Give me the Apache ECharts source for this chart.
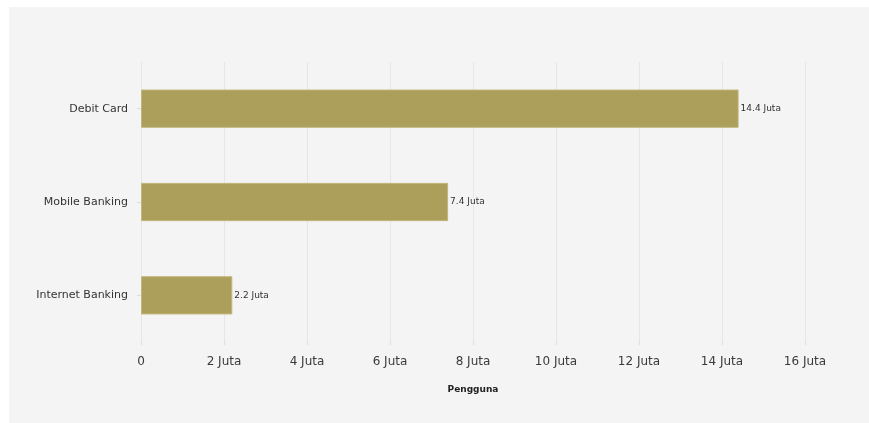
<!DOCTYPE html>
<html>
<head>
<meta charset="utf-8">
<script src="https://cdn.jsdelivr.net/npm/echarts@6/dist/echarts.min.js"></script>
<style>
  html, body { margin: 0; padding: 0; background: #ffffff; }
  #main { position: absolute; left: 9px; top: 7px; width: 860px; height: 416px; background: #f4f4f4; }
</style>
</head>
<body>
<div id="main"></div>
<script>
// data kanal pembayaran (juta pengguna)
var categories = ['Internet Banking', 'Mobile Banking', 'Debit Card'];
var values = [2.2, 7.4, 14.4];
var xTicks = [0, 2, 4, 6, 8, 10, 12, 14, 16];
var font = 'DejaVu Sans';

var myChart = echarts.init(document.getElementById('main'));
var opt = {
    backgroundColor: '#f4f4f4',
    textStyle: { fontFamily: font },
    grid: { left: 132, right: 64, top: 55, bottom: 81 },
    xAxis: {
        type: 'value',
        min: xTicks[0],
        max: xTicks[xTicks.length - 1],
        interval: 2,
        name: 'Pengguna',
        nameLocation: 'middle',
        nameGap: 43,
        nameTextStyle: { fontFamily: font, fontSize: 9, fontWeight: 'bold', color: '#222' },
        axisLine: { show: false },
        axisTick: { show: true, length: 3, lineStyle: { color: '#dddddd' } },
        axisLabel: {
            fontFamily: font, fontSize: 12, color: '#3a3a3a', margin: 14,
            formatter: function (v) { return v === 0 ? '0' : v + ' Juta'; }
        },
        splitLine: { show: true, lineStyle: { color: '#e6e6e6', width: 1 } }
    },
    yAxis: {
        type: 'category',
        data: categories,
        axisLine: { show: false },
        axisTick: { show: true, alignWithLabel: true, length: 4, lineStyle: { color: '#dddddd' } },
        axisLabel: { fontFamily: font, fontSize: 11, color: '#333', margin: 13 }
    },
    series: [{
        type: 'bar',
        data: values,
        barWidth: '41%',
        itemStyle: { color: '#ab9f5b', borderColor: '#c2b67a', borderWidth: 1 },
        label: {
            show: true,
            position: 'right',
            distance: 2,
            fontFamily: font,
            fontSize: 9,
            color: '#333',
            formatter: function (p) { return p.value + ' Juta'; }
        }
    }]
};
myChart.setOption(opt);
</script>
</body>
</html>
